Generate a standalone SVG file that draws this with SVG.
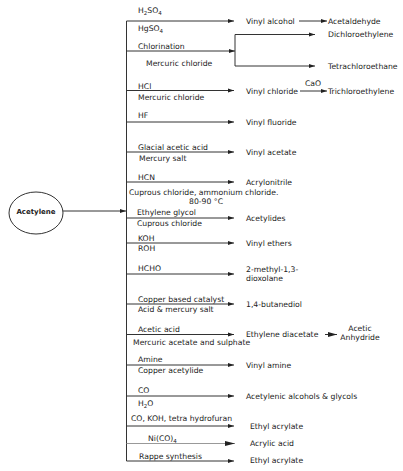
<svg xmlns="http://www.w3.org/2000/svg" width="403" height="471" viewBox="0 0 403 471">
<style>
text{font-family:"DejaVu Sans","Verdana",sans-serif;font-size:7.7px;fill:#222}
.b{font-weight:bold;font-size:7px}
.m{text-anchor:middle}
.l{stroke:#333;stroke-width:1;fill:none}
.a{stroke:#333;stroke-width:1;fill:none;marker-end:url(#ah)}
.g{stroke:#999;stroke-width:1;fill:none;marker-end:url(#ahg)}
.big{stroke:#333;stroke-width:1;fill:none;marker-end:url(#ahb)}
.s{font-size:5.5px}
</style>
<defs>
<marker id="ah" markerUnits="userSpaceOnUse" markerWidth="6" markerHeight="5" refX="6" refY="2.5" orient="auto"><path d="M0,0.5 L6,2.5 L0,4.5 Z" fill="#222"/></marker>
<marker id="ahg" markerUnits="userSpaceOnUse" markerWidth="10" markerHeight="6" refX="10" refY="3" orient="auto"><path d="M0,0.5 L10,3 L0,5.5 Z" fill="#222"/></marker>
<marker id="ahb" markerUnits="userSpaceOnUse" markerWidth="9" markerHeight="6" refX="9" refY="3" orient="auto"><path d="M0,0.5 L9,3 L0,5.5 Z" fill="#222"/></marker>
</defs>

<g id="acetylene">
<ellipse cx="36" cy="213" rx="27" ry="21" fill="#fff" stroke="#333" stroke-width="1"/>
<text class="b m" x="36" y="213.5">Acetylene</text>
</g>

<g id="connectors">
<path class="a" d="M63,211 H126"/>
<path class="l" d="M126.5,21 V461"/>
<path class="a" d="M126.5,21 H234"/>
<path class="a" d="M126.5,51 H235"/>
<path class="l" d="M235,34.5 V66"/>
<path class="a" d="M235,34.5 H315"/>
<path class="a" d="M235,66 H315"/>
<path class="a" d="M299,21 H327"/>
<path class="a" d="M126.5,90.5 H234"/>
<path class="a" d="M300,91 H327"/>
<path class="a" d="M126.5,122 H234"/>
<path class="a" d="M126.5,152 H234"/>
<path class="a" d="M126.5,182 H234"/>
<path class="a" d="M126.5,218 H234"/>
<path class="a" d="M126.5,243 H234"/>
<path class="a" d="M126.5,274 H234"/>
<path class="a" d="M126.5,304 H234"/>
<path class="a" d="M126.5,334.5 H234"/>
<path class="big" d="M325,334.5 H337"/>
<path class="a" d="M126.5,365 H234"/>
<path class="a" d="M126.5,396 H234"/>
<path class="a" d="M126.5,426 H234"/>
<path class="g" d="M126.5,443.5 H235"/>
<path class="a" d="M126.5,461 H234"/>
</g>

<g id="vinyl-alcohol">
<text x="138" y="13">H<tspan class="s" dy="1.5">2</tspan><tspan dy="-1.5">SO</tspan><tspan class="s" dy="1.5">4</tspan></text>
<text x="138" y="31">HgSO<tspan class="s" dy="1.5">4</tspan></text>
<text x="246" y="23.5">Vinyl alcohol</text>
</g>
<g id="acetaldehyde"><text x="328" y="23.5">Acetaldehyde</text></g>

<g id="chlorination">
<text x="138" y="48.5">Chlorination</text>
<text x="146" y="66">Mercuric chloride</text>
</g>
<g id="dichloroethylene"><text x="328" y="37">Dichloroethylene</text></g>
<g id="tetrachloroethane"><text x="328" y="69">Tetrachloroethane</text></g>

<g id="vinyl-chloride">
<text x="138" y="88.5">HCl</text>
<text x="138" y="100">Mercuric chloride</text>
<text x="246" y="93.5">Vinyl chloride</text>
<text x="305" y="86">CaO</text>
</g>
<g id="trichloroethylene"><text x="328" y="93.5">Trichloroethylene</text></g>

<g id="vinyl-fluoride">
<text x="138" y="118">HF</text>
<text x="246" y="125">Vinyl fluoride</text>
</g>

<g id="vinyl-acetate">
<text x="138" y="149.5">Glacial acetic acid</text>
<text x="139" y="160.5">Mercury salt</text>
<text x="246" y="155">Vinyl acetate</text>
</g>

<g id="acrylonitrile">
<text x="138" y="179.5">HCN</text>
<text x="129" y="195">Cuprous chloride, ammonium chloride.</text>
<text x="189" y="204">80-90 °C</text>
<text x="246" y="185">Acrylonitrile</text>
</g>

<g id="acetylides">
<text x="137" y="215">Ethylene glycol</text>
<text x="137" y="226">Cuprous chloride</text>
<text x="246" y="221">Acetylides</text>
</g>

<g id="vinyl-ethers">
<text x="138" y="241">KOH</text>
<text x="138" y="250.5">ROH</text>
<text x="246" y="245.5">Vinyl ethers</text>
</g>

<g id="dioxolane">
<text x="138" y="271">HCHO</text>
<text x="246" y="272">2-methyl-1,3-</text>
<text x="246" y="281">dioxolane</text>
</g>

<g id="butanediol">
<text x="138" y="302">Copper based catalyst</text>
<text x="138" y="312">Acid &amp; mercury salt</text>
<text x="246" y="307">1,4-butanediol</text>
</g>

<g id="ethylene-diacetate">
<text x="138" y="332">Acetic acid</text>
<text x="133" y="344.5">Mercuric acetate and sulphate</text>
<text x="246" y="337">Ethylene diacetate</text>
</g>
<g id="acetic-anhydride">
<text class="m" x="360" y="331">Acetic</text>
<text class="m" x="360" y="340">Anhydride</text>
</g>

<g id="vinyl-amine">
<text x="138" y="362">Amine</text>
<text x="138" y="373">Copper acetylide</text>
<text x="246" y="368">Vinyl amine</text>
</g>

<g id="acetylenic-alcohols">
<text x="138" y="393">CO</text>
<text x="138" y="406">H<tspan class="s" dy="1.5">2</tspan><tspan dy="-1.5">O</tspan></text>
<text x="246" y="398.5">Acetylenic alcohols &amp; glycols</text>
</g>

<g id="ethyl-acrylate-1">
<text x="131" y="420.5">CO, KOH, tetra hydrofuran</text>
<text x="250" y="428.5">Ethyl acrylate</text>
</g>

<g id="acrylic-acid">
<text x="148" y="441">Ni(CO)<tspan class="s" dy="1.5">4</tspan></text>
<text x="250" y="446">Acrylic acid</text>
</g>

<g id="ethyl-acrylate-2">
<text x="139" y="458.5">Rappe synthesis</text>
<text x="250" y="463">Ethyl acrylate</text>
</g>
</svg>
